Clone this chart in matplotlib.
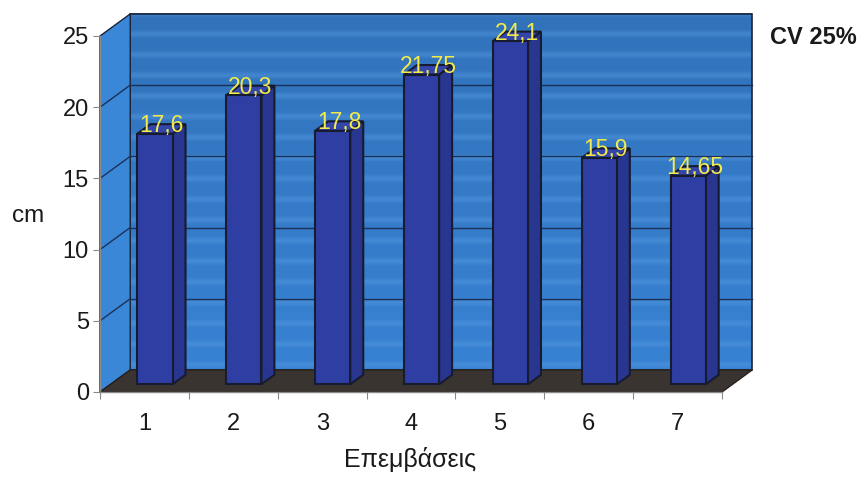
import numpy as np
import matplotlib.pyplot as plt
from matplotlib.patches import Polygon

plt.rcParams['font.family'] = ['Liberation Sans', 'DejaVu Sans']

categories = ['1', '2', '3', '4', '5', '6', '7']
values = [17.6, 20.3, 17.8, 21.75, 24.1, 15.9, 14.65]
value_labels = ['17,6', '20,3', '17,8', '21,75', '24,1', '15,9', '14,65']
yticks = [0, 5, 10, 15, 20, 25]

# depth of the 3d box, in data units
DX, DY = 0.34, 1.55
ymax = 25

fig = plt.figure(figsize=(8.65, 4.83), dpi=100)
ax = fig.add_axes([100 / 865, 91 / 483, 622 / 865, 356 / 483])
ax.set_xlim(0.5, 7.5)
ax.set_ylim(0, ymax)

x0, x1 = 0.5, 7.5

# back wall with soft horizontal banding
ny = 600
yy = np.linspace(0, ymax, ny)
band = np.clip(np.sin(yy * 2 * np.pi / 1.45), 0, 1) ** 2
vert = yy / ymax
base = np.array([0.22, 0.51, 0.83]) * (1 - vert[:, None] * 0.12)
light = np.array([0.32, 0.59, 0.87])
img = base + (light - base) * band[:, None] * 0.5
img = img[:, None, :].repeat(4, axis=1)
ax.imshow(img, extent=(x0 + DX, x1 + DX, DY, ymax + DY), origin='lower',
          aspect='auto', zorder=0, clip_on=False, interpolation='bilinear')
ax.add_patch(Polygon([(x0 + DX, DY), (x1 + DX, DY), (x1 + DX, ymax + DY), (x0 + DX, ymax + DY)],
                     closed=True, fill=False, ec='#1c2438', lw=1.2, zorder=1, clip_on=False))

# left side wall
ax.add_patch(Polygon([(x0, 0), (x0 + DX, DY), (x0 + DX, ymax + DY), (x0, ymax)],
                     closed=True, fc='#3a87d8', ec='#1c2438', lw=1.0, zorder=1, clip_on=False))

# gridlines on walls
for v in yticks[1:-1]:
    ax.plot([x0 + DX, x1 + DX], [v + DY, v + DY], color='#1b3158', lw=1.0, zorder=1.5, clip_on=False)
    ax.plot([x0, x0 + DX], [v, v + DY], color='#1b3158', lw=1.0, zorder=1.5, clip_on=False)

# floor
ax.add_patch(Polygon([(x0, 0), (x1, 0), (x1 + DX, DY), (x0 + DX, DY)],
                     closed=True, fc='#3a3431', ec='#26211f', lw=1.0, zorder=2, clip_on=False))

# bars
w = 0.395
f0, f1 = 0.35, 0.78
for i, (v, lab) in enumerate(zip(values, value_labels)):
    cx = i + 1
    xl = cx - w / 2 + f0 * DX
    xr = cx + w / 2 + f0 * DX
    yb = f0 * DY
    ddx = (f1 - f0) * DX
    ddy = (f1 - f0) * DY
    # side face
    ax.add_patch(Polygon([(xr, yb), (xr + ddx, yb + ddy), (xr + ddx, yb + ddy + v), (xr, yb + v)],
                         closed=True, fc='#29368f', ec='#161b30', lw=1.5, zorder=3, clip_on=False))
    # top face
    ax.add_patch(Polygon([(xl, yb + v), (xr, yb + v), (xr + ddx, yb + ddy + v), (xl + ddx, yb + ddy + v)],
                         closed=True, fc='#3546aa', ec='#161b30', lw=1.5, zorder=3, clip_on=False))
    # front face
    ax.add_patch(Polygon([(xl, yb), (xr, yb), (xr, yb + v), (xl, yb + v)],
                         closed=True, fc='#2f3ea2', ec='#161b30', lw=1.5, zorder=3, clip_on=False))
    ax.text((xl + xr + ddx) / 2, yb + v + 0.1, lab, ha='center', va='baseline',
            color='#f3ea4c', fontsize=16.5, zorder=5, clip_on=False)

# axes
for s in ['top', 'right']:
    ax.spines[s].set_visible(False)
for s in ['left', 'bottom']:
    ax.spines[s].set_color('#8a8a8a')
    ax.spines[s].set_linewidth(1.0)
    ax.spines[s].set_zorder(4)

ax.set_yticks(yticks)
ax.set_yticklabels([str(t) for t in yticks], fontsize=17, color='#1a1a1a')
ax.set_xticks(np.arange(0.5, 8.0, 1.0))
ax.set_xticklabels([])
ax.set_xticks(np.arange(1, 8), minor=True)
ax.set_xticklabels(categories, minor=True, fontsize=17, color='#1a1a1a')
ax.tick_params(axis='x', which='major', length=5, color='#8a8a8a')
ax.tick_params(axis='x', which='minor', length=0, pad=15)
ax.tick_params(axis='y', length=5, color='#8a8a8a', pad=3)

fig.text(28 / 865, 1 - 216 / 483, 'cm', fontsize=17.5, color='#1a1a1a',
         ha='center', va='center')
fig.text(410 / 865, 1 - 460 / 483, 'Επεμβάσεις', fontsize=18, color='#1a1a1a',
         ha='center', va='center')
fig.text(813 / 865, 1 - 38 / 483, 'CV 25%', fontsize=17, fontweight='bold',
         color='#1a1a1a', ha='center', va='center')

fig.savefig('out.png', dpi=100)
